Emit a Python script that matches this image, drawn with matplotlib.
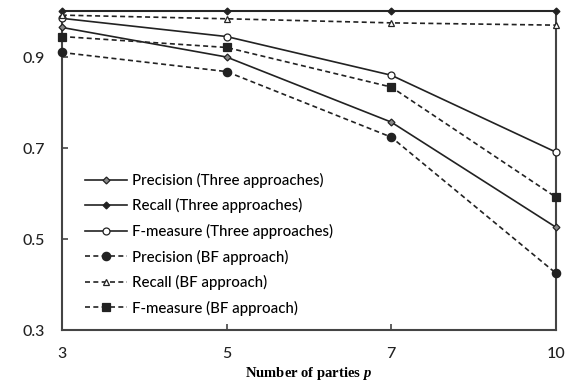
import matplotlib.pyplot as plt

# categories on x (equally spaced)
parties = ["3", "5", "7", "10"]

# values
precision_three = [0.965, 0.900, 0.757, 0.526]
recall_three = [1.0, 1.0, 1.0, 1.0]
fmeasure_three = [0.985, 0.945, 0.860, 0.691]
precision_bf = [0.910, 0.868, 0.724, 0.425]
recall_bf = [0.992, 0.984, 0.975, 0.970]
fmeasure_bf = [0.945, 0.921, 0.834, 0.592]

y_ticks = [0.3, 0.5, 0.7, 0.9]

plt.rcParams["mathtext.fontset"] = "custom"
plt.rcParams["mathtext.it"] = "Liberation Serif:italic:bold"

fig = plt.figure(figsize=(5.72, 3.83), dpi=100)
ax = fig.add_axes([0.108, 0.138, 0.864, 0.832])

x = list(range(len(parties)))
line_color = "#222222"

series = [
    (precision_three, "Precision (Three approaches)", "-", "D", 3.5, "#888888"),
    (recall_three, "Recall (Three approaches)", "-", "D", 3.5, line_color),
    (fmeasure_three, "F-measure (Three approaches)", "-", "o", 5, "white"),
    (precision_bf, "Precision (BF approach)", "--", "o", 6, line_color),
    (recall_bf, "Recall (BF approach)", "--", "^", 5, "white"),
    (fmeasure_bf, "F-measure (BF approach)", "--", "s", 6, line_color),
]

for values, label, ls, marker, ms, mfc in series:
    ax.plot(
        x,
        values,
        linestyle=ls,
        dashes=(3, 2) if ls == "--" else (None, None),
        color=line_color,
        linewidth=1.2,
        marker=marker,
        markersize=ms,
        markerfacecolor=mfc,
        markeredgecolor=line_color,
        markeredgewidth=0.9,
        label=label,
        clip_on=False,
        zorder=3,
    )

ax.set_xlim(0, len(parties) - 1)
ax.set_ylim(0.3, 1.0)
ax.set_xticks(x)
ax.set_xticklabels(parties)
ax.set_yticks(y_ticks)
ax.set_yticklabels(["%.1f" % v for v in y_ticks])

ax.tick_params(
    direction="in", length=4, width=1.2, pad=12, labelsize=11.5,
    color="#444444", labelcolor="#222222",
)
for lab in ax.get_xticklabels() + ax.get_yticklabels():
    lab.set_fontfamily("Lato")
    lab.set_fontweight("medium")

for side, spine in ax.spines.items():
    spine.set_linewidth(1.5)
    spine.set_color("#444444")

ax.set_xlabel(
    r"Number of parties $p$",
    fontfamily="Liberation Serif",
    fontweight="bold",
    fontsize=10.5,
    labelpad=3,
)

leg = ax.legend(
    loc="lower left",
    bbox_to_anchor=(0.02, 0.003),
    frameon=False,
    prop={"family": "Lato", "size": 10.8, "weight": "medium"},
    handlelength=2.8,
    handletextpad=0.35,
    labelspacing=0.7,
)

fig.savefig("out.png", dpi=100, facecolor="white")
